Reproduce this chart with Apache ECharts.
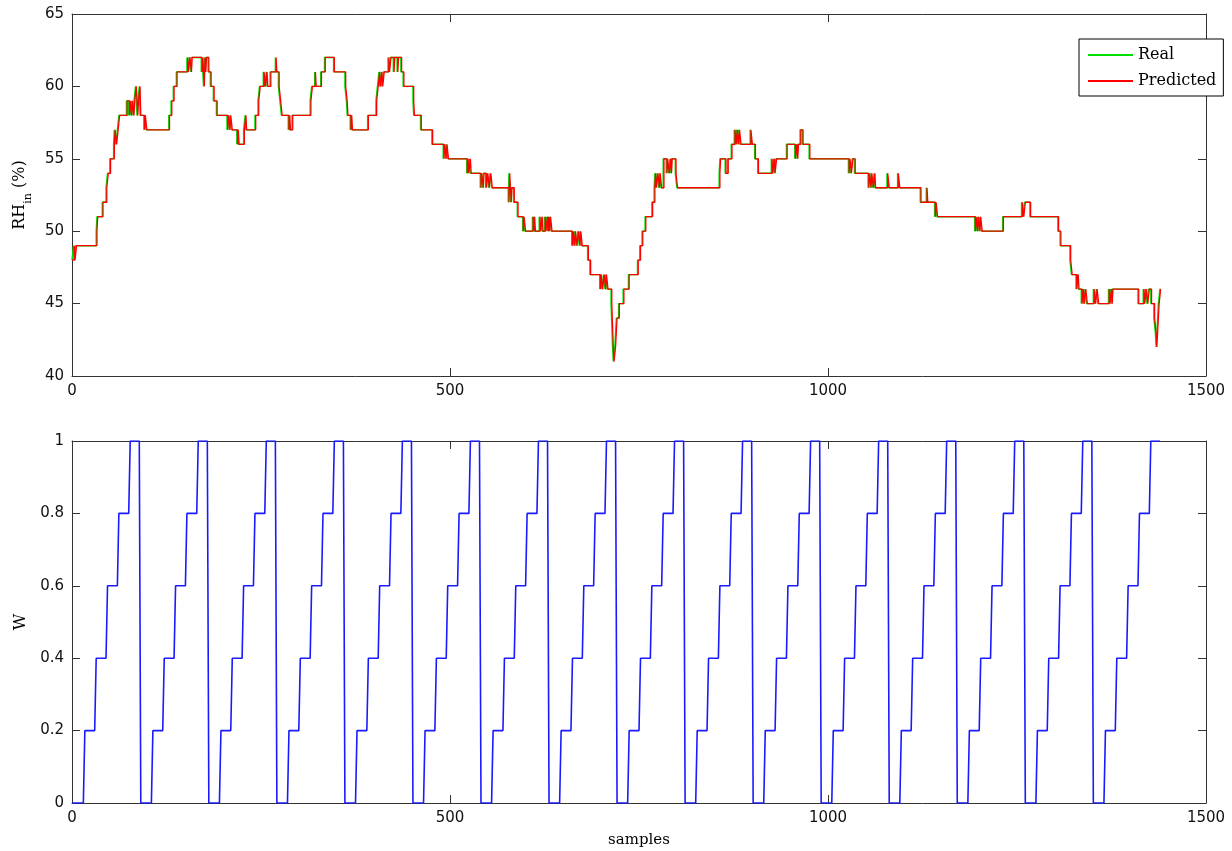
<!DOCTYPE html>
<html>
<head>
<meta charset="utf-8">
<script src="https://cdn.jsdelivr.net/npm/echarts@6/dist/echarts.min.js"></script>
<style>
html,body{margin:0;padding:0;background:#fff;}
#chart{width:1232px;height:851px;}
</style>
</head>
<body>
<div id="chart"></div>
<script>
// ---- tick settings ----
var xTicks = [0, 500, 1000, 1500];
var rhTicks = [40, 45, 50, 55, 60, 65];
var wTicks = [0, 0.2, 0.4, 0.6, 0.8, 1];

// ---- legend / series names ----
var seriesNames = ['Real', 'Predicted'];

// ---- Real RH_in: [sample where level starts, level %] ----
var realRH = [
[0,48],[2,49],[3,48],[5,49],
[32,50],[33,51],[40,52],[45,53],[47,54],[50,55],[55,56],[56,57],[58,56],[60,57],[62,58],
[72,59],[75,58],[76,59],[78,58],[79,59],[81,58],[82,59],[84,60],[85,59],[86,58],[87,59],[89,60],[90,58],
[95,57],[96,58],[98,57],
[128,58],[131,59],[134,60],[138,61],
[152,62],[153,61],[155,62],[157,61],[158,62],
[171,61],[172,62],[174,60],[175,62],[176,61],[177,62],[180,61],[183,60],[187,59],[191,58],
[205,57],[206,58],[208,57],[209,58],[211,57],
[218,56],[219,57],[220,56],[227,57],[229,58],[230,57],
[242,58],[246,59],[248,60],[253,61],[255,60],[257,61],[258,60],[262,61],[269,62],[270,61],[273,60],[275,59],[277,58],
[286,57],[287,58],[288,57],[291,58],
[315,59],[317,60],[321,61],[322,60],[329,61],[334,62],[346,61],[361,60],[363,59],[364,58],[368,57],[369,58],[370,57],
[391,58],[402,59],[404,60],[406,61],[407,60],[409,61],[410,60],[412,61],[418,62],[419,61],[421,62],[425,61],[426,62],[430,61],[431,62],[435,61],[438,60],
[451,59],[452,58],[461,57],[476,56],[491,55],[492,56],[494,55],[495,56],[497,55],
[522,54],[523,55],[524,54],[526,55],[527,54],
[540,53],[541,54],[543,53],[544,54],[547,53],[549,54],[551,53],[553,54],[555,53],
[577,52],[578,54],[579,53],[580,52],[581,53],[584,52],[589,51],[596,50],[597,51],[599,50],
[609,51],[610,50],[611,51],[612,50],[618,51],[619,50],[621,51],[622,50],[625,51],[626,50],[628,51],[629,50],[630,51],[631,50],[632,51],[634,50],
[661,49],[662,50],[664,49],[665,50],[667,49],[669,50],[671,49],[672,50],[674,49],[682,48],[685,47],
[698,46],[699,47],[701,46],[703,47],[705,46],[706,47],[708,46],
[713,45],[715,42],[716,41],[718,42],[719,43],[720,44],[723,45],[729,46],[736,47],[748,48],[751,49],[754,50],[758,51],[767,52],[770,53],[771,54],[772,53],[774,54],[776,53],[777,54],[779,53],[782,55],[786,54],[787,55],[789,54],[791,55],[792,54],[793,55],[798,54],[800,53],
[856,54],[857,55],[864,54],[867,55],[872,56],[876,57],[878,56],[879,57],[881,56],[882,57],[884,56],
[897,57],[899,56],[903,55],[907,54],[925,55],[926,54],[928,55],[929,54],[931,55],
[945,56],[956,55],[958,56],[959,55],[960,56],[963,57],[966,56],[975,55],
[1027,54],[1028,55],[1030,54],[1032,55],[1035,54],
[1053,53],[1054,54],[1056,53],[1057,54],[1059,53],[1061,54],[1062,53],
[1078,54],[1080,53],[1092,54],[1094,53],
[1122,52],[1130,53],[1131,52],[1141,51],[1142,52],[1144,51],
[1194,50],[1195,51],[1197,50],[1198,51],[1200,50],[1201,51],[1203,50],
[1231,51],[1256,52],[1258,51],[1260,52],[1267,51],
[1304,50],[1307,49],[1320,48],[1322,47],[1328,46],[1330,47],[1331,46],[1335,45],
[1337,46],[1338,45],[1340,46],[1342,45],[1351,46],[1353,45],[1355,46],[1357,45],[1371,46],[1372,45],[1374,46],[1375,45],[1376,46],
[1410,45],[1417,46],[1418,45],[1420,46],[1422,45],[1424,46],[1427,45],[1431,44],[1433,43],[1434,42],[1436,44],[1437,45],[1439,46],[1440,46]
];

// ---- Predicted RH_in: [sample where level starts, level %] ----
var predRH = [
[0,48],[3,49],[4,48],[6,49],
[33,50],[34,51],[41,52],[46,53],[48,54],[51,55],[56,56],[57,57],[59,56],[61,57],[63,58],
[73,59],[76,58],[77,59],[79,58],[80,59],[82,58],[83,59],[85,60],[86,59],[87,58],[88,59],[90,60],[91,58],
[96,57],[97,58],[99,57],
[129,58],[132,59],[135,60],[139,61],
[153,62],[154,61],[156,62],[158,61],[159,62],
[172,61],[173,62],[175,60],[176,62],[177,61],[178,62],[181,61],[184,60],[188,59],[192,58],
[206,57],[207,58],[209,57],[210,58],[212,57],
[219,56],[220,57],[221,56],[228,57],[230,58],[231,57],
[243,58],[247,59],[249,60],[254,61],[256,60],[258,61],[259,60],[263,61],[270,62],[271,61],[274,60],[276,59],[278,58],
[287,57],[288,58],[289,57],[292,58],
[316,59],[318,60],[322,61],[323,60],[330,61],[335,62],[347,61],[362,60],[364,59],[365,58],[369,57],[370,58],[371,57],
[392,58],[403,59],[405,60],[407,61],[408,60],[410,61],[411,60],[413,61],[419,62],[420,61],[422,62],[426,61],[427,62],[431,61],[432,62],[436,61],[439,60],
[452,59],[453,58],[462,57],[477,56],[492,55],[493,56],[495,55],[496,56],[498,55],
[523,54],[524,55],[525,54],[527,55],[528,54],
[541,53],[542,54],[544,53],[545,54],[548,53],[550,54],[552,53],[554,54],[556,53],
[578,52],[579,54],[580,53],[581,52],[582,53],[585,52],[590,51],[597,50],[598,51],[600,50],
[610,51],[611,50],[612,51],[613,50],[619,51],[620,50],[622,51],[623,50],[626,51],[627,50],[629,51],[630,50],[631,51],[632,50],[633,51],[635,50],
[662,49],[663,50],[665,49],[666,50],[668,49],[670,50],[672,49],[673,50],[675,49],[683,48],[686,47],
[699,46],[700,47],[702,46],[704,47],[706,46],[707,47],[709,46],
[714,45],[716,42],[717,41],[719,42],[720,43],[721,44],[724,45],[730,46],[737,47],[749,48],[752,49],[755,50],[759,51],[768,52],[771,53],[772,54],[773,53],[775,54],[777,53],[778,54],[780,53],[783,55],[787,54],[788,55],[790,54],[792,55],[793,54],[794,55],[799,54],[801,53],
[857,54],[858,55],[865,54],[868,55],[873,56],[877,57],[879,56],[880,57],[882,56],[883,57],[885,56],
[898,57],[900,56],[904,55],[908,54],[926,55],[927,54],[929,55],[930,54],[932,55],
[946,56],[957,55],[959,56],[960,55],[961,56],[964,57],[967,56],[976,55],
[1028,54],[1029,55],[1031,54],[1033,55],[1036,54],
[1054,53],[1055,54],[1057,53],[1058,54],[1060,53],[1062,54],[1063,53],
[1079,54],[1081,53],[1093,54],[1095,53],
[1123,52],[1131,53],[1132,52],[1142,51],[1143,52],[1145,51],
[1195,50],[1196,51],[1198,50],[1199,51],[1201,50],[1202,51],[1204,50],
[1232,51],[1257,52],[1259,51],[1261,52],[1268,51],
[1305,50],[1308,49],[1321,48],[1323,47],[1329,46],[1331,47],[1332,46],[1336,45],
[1338,46],[1339,45],[1341,46],[1343,45],[1352,46],[1354,45],[1356,46],[1358,45],[1372,46],[1373,45],[1375,46],[1376,45],[1377,46],
[1411,45],[1418,46],[1419,45],[1421,46],[1423,45],[1425,46],[1428,45],[1432,44],[1434,43],[1435,42],[1437,44],[1438,45],[1440,46]
];

// ---- W: vertices [sample, W] ----
var wPts = [
[0,0],[15,0],[17,0.2],[30,0.2],[32,0.4],[45,0.4],[47,0.6],[60,0.6],[62,0.8],[75,0.8],[77,1],[89,1],[91,0],
[105,0],[107,0.2],[120,0.2],[122,0.4],[135,0.4],[137,0.6],[150,0.6],[152,0.8],[165,0.8],[167,1],[179,1],[181,0],
[195,0],[197,0.2],[210,0.2],[212,0.4],[225,0.4],[227,0.6],[240,0.6],[242,0.8],[255,0.8],[257,1],[269,1],[271,0],
[285,0],[287,0.2],[300,0.2],[302,0.4],[315,0.4],[317,0.6],[330,0.6],[332,0.8],[345,0.8],[347,1],[359,1],[361,0],
[375,0],[377,0.2],[390,0.2],[392,0.4],[405,0.4],[407,0.6],[420,0.6],[422,0.8],[435,0.8],[437,1],[449,1],[451,0],
[465,0],[467,0.2],[480,0.2],[482,0.4],[495,0.4],[497,0.6],[510,0.6],[512,0.8],[525,0.8],[527,1],[539,1],[541,0],
[555,0],[557,0.2],[570,0.2],[572,0.4],[585,0.4],[587,0.6],[600,0.6],[602,0.8],[615,0.8],[617,1],[629,1],[631,0],
[645,0],[647,0.2],[660,0.2],[662,0.4],[675,0.4],[677,0.6],[690,0.6],[692,0.8],[705,0.8],[707,1],[719,1],[721,0],
[735,0],[737,0.2],[750,0.2],[752,0.4],[765,0.4],[767,0.6],[780,0.6],[782,0.8],[795,0.8],[797,1],[809,1],[811,0],
[825,0],[827,0.2],[840,0.2],[842,0.4],[855,0.4],[857,0.6],[870,0.6],[872,0.8],[885,0.8],[887,1],[899,1],[901,0],
[915,0],[917,0.2],[930,0.2],[932,0.4],[945,0.4],[947,0.6],[960,0.6],[962,0.8],[975,0.8],[977,1],[989,1],[991,0],
[1005,0],[1007,0.2],[1020,0.2],[1022,0.4],[1035,0.4],[1037,0.6],[1050,0.6],[1052,0.8],[1065,0.8],[1067,1],[1079,1],[1081,0],
[1095,0],[1097,0.2],[1110,0.2],[1112,0.4],[1125,0.4],[1127,0.6],[1140,0.6],[1142,0.8],[1155,0.8],[1157,1],[1169,1],[1171,0],
[1185,0],[1187,0.2],[1200,0.2],[1202,0.4],[1215,0.4],[1217,0.6],[1230,0.6],[1232,0.8],[1245,0.8],[1247,1],[1259,1],[1261,0],
[1275,0],[1277,0.2],[1290,0.2],[1292,0.4],[1305,0.4],[1307,0.6],[1320,0.6],[1322,0.8],[1335,0.8],[1337,1],[1349,1],[1351,0],
[1365,0],[1367,0.2],[1380,0.2],[1382,0.4],[1395,0.4],[1397,0.6],[1410,0.6],[1412,0.8],[1425,0.8],[1427,1],[1439,1]
];

var AX = '#333333';
var LBL = {color:'#111', fontFamily:'DejaVu Sans', fontSize:15, margin:8,
  formatter:function(v){ return String(+v.toFixed(6)); }};
function xAx(grid, pos, showLabel, extra) {
  var a = {
    gridIndex: grid, type:'value', position: pos,
    min: xTicks[0], max: xTicks[xTicks.length-1], interval: xTicks[1]-xTicks[0],
    axisLine:{show:true, onZero:false, lineStyle:{color:AX, width:1}},
    axisTick:{show:true, inside:true, length:8, lineStyle:{color:AX}},
    axisLabel: showLabel ? LBL : {show:false},
    splitLine:{show:false}
  };
  if (extra) for (var k in extra) a[k] = extra[k];
  return a;
}
function yAx(grid, pos, ticks, showLabel, extra) {
  var a = {
    gridIndex: grid, type:'value', position: pos,
    min: ticks[0], max: ticks[ticks.length-1], interval: +(ticks[1]-ticks[0]).toFixed(6),
    axisLine:{show:true, onZero:false, lineStyle:{color:AX, width:1}},
    axisTick:{show:true, inside:true, length:8, lineStyle:{color:AX}},
    axisLabel: showLabel ? LBL : {show:false},
    splitLine:{show:false}
  };
  if (extra) for (var k in extra) a[k] = extra[k];
  return a;
}

var chart = echarts.init(document.getElementById('chart'), null, {renderer:'canvas'});
chart.setOption({
  animation:false,
  backgroundColor:'#fff',
  grid:[
    {left:72, top:14, width:1134, height:362},
    {left:72, top:441, width:1134, height:362}
  ],
  legend:{
    data: seriesNames,
    orient:'vertical', left:1079, top:39,
    icon:'rect', itemWidth:45, itemHeight:2, itemGap:10,
    padding:[8,7,7,9],
    backgroundColor:'#fff', borderColor:'#000', borderWidth:1,
    textStyle:{fontFamily:'DejaVu Serif', fontSize:16, color:'#000'}
  },
  xAxis:[
    xAx(0,'bottom',true),
    xAx(0,'top',false),
    xAx(1,'bottom',true,{name:'samples', nameLocation:'middle', nameGap:30,
      nameTextStyle:{fontFamily:'DejaVu Serif', fontSize:15, color:'#000'}}),
    xAx(1,'top',false)
  ],
  yAxis:[
    yAx(0,'left',rhTicks,true,{name:'{m|RH}{s|in}{m| (%)}', nameLocation:'middle', nameRotate:90, nameGap:42,
      nameTextStyle:{rich:{
        m:{fontFamily:'DejaVu Serif', fontSize:16, color:'#000', lineHeight:18},
        s:{fontFamily:'DejaVu Serif', fontSize:11, color:'#000', verticalAlign:'bottom', lineHeight:12, padding:[0,0,-5,0]}
      }}}),
    yAx(0,'right',rhTicks,false),
    yAx(1,'left',wTicks,true,{name:'W', nameLocation:'middle', nameRotate:90, nameGap:42,
      nameTextStyle:{fontFamily:'DejaVu Serif', fontSize:16, color:'#000'}}),
    yAx(1,'right',wTicks,false)
  ],
  series:[
    {name:seriesNames[0], type:'line', xAxisIndex:0, yAxisIndex:0, data:realRH, step:'end',
     showSymbol:false, lineStyle:{color:'#00dd00', width:1.4}, itemStyle:{color:'#00dd00'}, z:2},
    {name:seriesNames[1], type:'line', xAxisIndex:0, yAxisIndex:0, data:predRH, step:'end',
     showSymbol:false, lineStyle:{color:'#ff0000', width:1.3}, itemStyle:{color:'#ff0000'}, z:3},
    {name:'W', type:'line', xAxisIndex:2, yAxisIndex:2, data:wPts,
     showSymbol:false, lineStyle:{color:'#1a1aff', width:1.6}, itemStyle:{color:'#1a1aff'}, z:2}
  ]
});
</script>
</body>
</html>
